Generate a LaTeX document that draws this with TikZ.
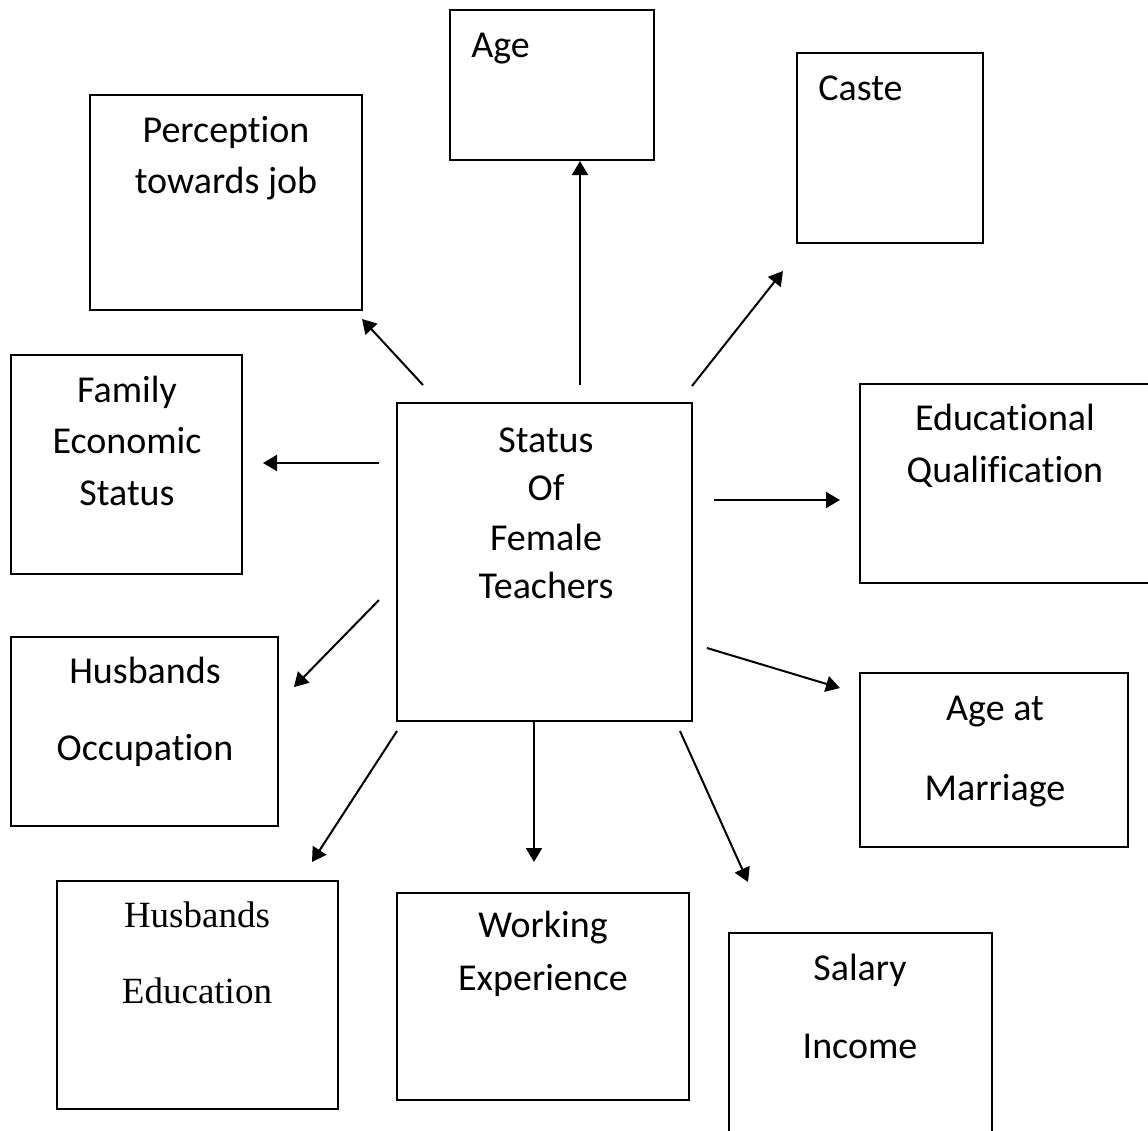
\documentclass[tikz,border=0pt]{standalone}
\usepackage{fontspec}
\setmainfont{Carlito}[Ligatures={NoCommon}]
\newfontfamily\serifw{Liberation Serif}
\usetikzlibrary{arrows.meta}
\begin{document}
\begin{tikzpicture}[x=0.5pt,y=-0.5pt,
  box/.style={draw, line width=1pt, rectangle, inner sep=0pt, outer sep=0pt},
  lbl/.style={anchor=base, inner sep=0pt, font=\fontsize{19}{22}\selectfont},
  lbls/.style={anchor=base, inner sep=0pt, font=\serifw\fontsize{18.5}{22}\selectfont},
  arr/.style={line width=1pt, -{Triangle[length=7pt,width=8pt]}}]
\useasboundingbox (0,0) rectangle (1148,1131);
\clip (0,0) rectangle (1148,1131);
% boxes
\node[box, minimum width=102pt, minimum height=75pt] (age) at (552,85) {};
\node[box, minimum width=93pt, minimum height=95pt] (caste) at (890,148) {};
\node[box, minimum width=136pt, minimum height=107.5pt] (perc) at (226,202.5) {};
\node[box, minimum width=115.5pt, minimum height=109.5pt] (fam) at (126.5,464.5) {};
\node[box, minimum width=147.5pt, minimum height=159pt] (status) at (544.5,562) {};
\node[box, minimum width=150pt, minimum height=99.5pt] (edu) at (1010,483.5) {};
\node[box, minimum width=133.5pt, minimum height=94.5pt] (hocc) at (144.5,731.5) {};
\node[box, minimum width=134pt, minimum height=87pt] (marr) at (994,760) {};
\node[box, minimum width=140.5pt, minimum height=114pt] (hedu) at (197.5,995) {};
\node[box, minimum width=146pt, minimum height=103.5pt] (work) at (543,996.5) {};
\node[box, minimum width=131.5pt, minimum height=107pt] (sal) at (860.5,1040) {};
% labels
\node[lbl, anchor=base west] (tage) at (471,57) {Age};
\node[lbl, anchor=base west] (tcaste) at (818,100) {Caste};
\node[lbl] (tperc1) at (226,142) {Perception};
\node[lbl] (tperc2) at (226,193) {towards job};
\node[lbl] (tfam1) at (127,402) {Family};
\node[lbl] (tfam2) at (127,453) {Economic};
\node[lbl] (tfam3) at (127,505) {Status};
\node[lbl] (ts1) at (546,452) {Status};
\node[lbl] (ts2) at (546,500) {Of};
\node[lbl] (ts3) at (546,550) {Female};
\node[lbl] (ts4) at (546,598) {Teachers};
\node[lbl] (tedu1) at (1005,430) {Educational};
\node[lbl] (tedu2) at (1005,482) {Qualification};
\node[lbl] (thocc1) at (145,683) {Husbands};
\node[lbl] (thocc2) at (145,760) {Occupation};
\node[lbl] (tmarr1) at (995,720) {Age at};
\node[lbl] (tmarr2) at (995,800) {Marriage};
\node[lbls] (thedu1) at (197,927) {Husbands};
\node[lbls] (thedu2) at (197,1003) {Education};
\node[lbl] (twork1) at (543,937) {Working};
\node[lbl] (twork2) at (543,990) {Experience};
\node[lbl] (tsal1) at (860,980) {Salary};
\node[lbl] (tsal2) at (860,1058) {Income};
% connector ends
\coordinate (sAge) at (580,385);   \coordinate (eAge) at (580,161);
\coordinate (sCaste) at (692,386); \coordinate (eCaste) at (783,271);
\coordinate (sPerc) at (423,385);  \coordinate (ePerc) at (362,319);
\coordinate (sFam) at (379,463);   \coordinate (eFam) at (263,463);
\coordinate (sEdu) at (714,500);   \coordinate (eEdu) at (840,500);
\coordinate (sMarr) at (707,648);  \coordinate (eMarr) at (840,688);
\coordinate (sHocc) at (379,600);  \coordinate (eHocc) at (294,687);
\coordinate (sHedu) at (397,731);  \coordinate (eHedu) at (312,862);
\coordinate (eWork) at (534,862);
\coordinate (sSal) at (680,731);   \coordinate (eSal) at (748,882);
% connectors
\draw[arr] (sAge) -- (eAge);
\draw[arr] (sCaste) -- (eCaste);
\draw[arr] (sPerc) -- (ePerc);
\draw[arr] (sFam) -- (eFam);
\draw[arr] (sEdu) -- (eEdu);
\draw[arr] (sMarr) -- (eMarr);
\draw[arr] (sHocc) -- (eHocc);
\draw[arr] (sHedu) -- (eHedu);
\draw[arr] (status.south -| eWork) -- (eWork);
\draw[arr] (sSal) -- (eSal);
\end{tikzpicture}
\end{document}
